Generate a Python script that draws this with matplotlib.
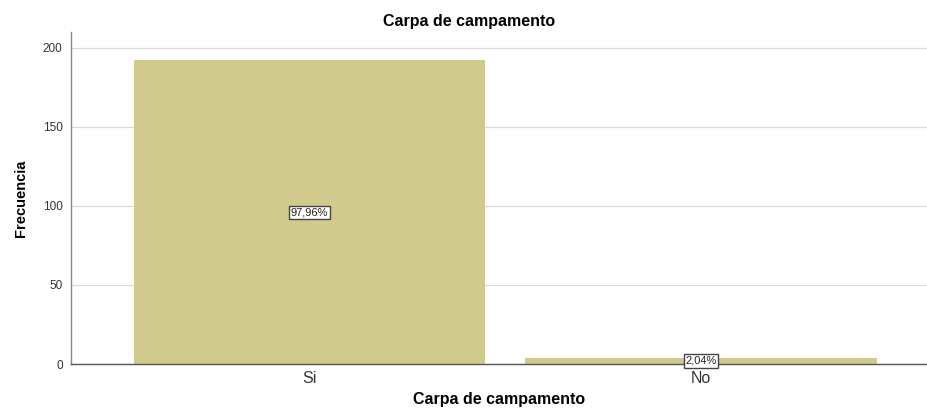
import matplotlib.pyplot as plt

plt.rcParams['font.family'] = ['Liberation Sans', 'DejaVu Sans']

categories = ["Si", "No"]
counts = [192, 4]
percents = ["97,96%", "2,04%"]

fig = plt.figure(figsize=(9.28, 4.13), dpi=100)
ax = fig.add_axes([0.0765, 0.1186, 0.9235, 0.8039])

x = list(range(len(categories)))
ax.bar(x, counts, width=0.898, color="#d0ca8e", zorder=2)

for xi, c, p in zip(x, counts, percents):
    ax.text(xi, c / 2, p, ha="center", va="center", fontsize=8, color="#222222", zorder=3,
            bbox=dict(boxstyle="square,pad=0.15", facecolor="white", edgecolor="#444444", linewidth=1.0))

ax.set_xlim(-0.609, 1.58)
ax.set_ylim(0, 210)
ax.set_yticks([0, 50, 100, 150, 200])
ax.set_xticks(x)
ax.set_xticklabels(categories, fontsize=11.5, color="#333333")
ax.tick_params(axis="y", length=0, labelsize=8.5, pad=6, labelcolor="#333333")
ax.tick_params(axis="x", length=0, pad=5)
ax.yaxis.grid(True, color="#d9d9d9", linewidth=0.9, zorder=0)
ax.set_axisbelow(True)

for side in ["top", "right"]:
    ax.spines[side].set_visible(False)
ax.spines["left"].set_color("#888888")
ax.spines["bottom"].set_color("#555555")
ax.spines["left"].set_linewidth(1.0)
ax.spines["bottom"].set_linewidth(1.0)

ax.set_title("Carpa de campamento", fontsize=11.5, fontweight="bold", pad=4, x=0.464)
ax.set_xlabel("Carpa de campamento", fontsize=11.5, fontweight="bold", labelpad=4)
ax.set_ylabel("Frecuencia", fontsize=10.5, fontweight="bold", labelpad=11)

fig.savefig("out.png", dpi=100)
